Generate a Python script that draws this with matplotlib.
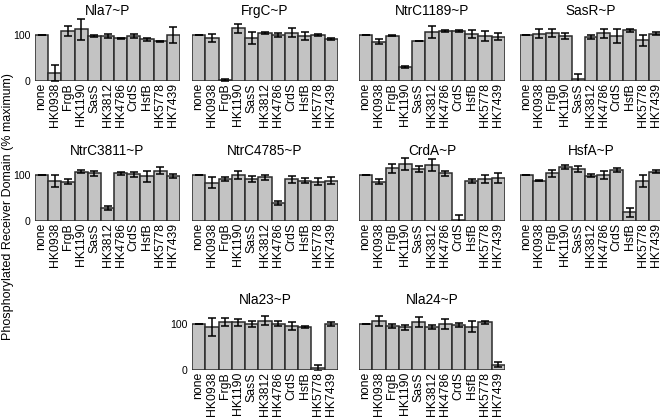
import matplotlib
matplotlib.use('Agg')
import matplotlib.pyplot as plt
import numpy as np

plt.rcParams['font.family'] = ['Liberation Sans', 'DejaVu Sans']

kinases = ['none', 'HK0938', 'FrgB', 'HK1190', 'SasS', 'HK3812',
           'HK4786', 'CrdS', 'HsfB', 'HK5778', 'HK7439']

# mean phosphorylation (% maximum) and error for each receiver domain
nla7 = [100, 17, 109, 113, 98, 98, 93, 98, 91, 87, 101]
nla7_err = [0, 17, 11, 23, 3, 4, 1, 5, 3, 1, 17]
frgc = [100, 94, 3, 115, 94, 105, 101, 105, 98, 100, 92]
frgc_err = [0, 8, 2, 10, 13, 3, 4, 10, 8, 2, 2]
ntrc1189 = [100, 86, 99, 30, 88, 107, 109, 109, 102, 98, 97]
ntrc1189_err = [0, 6, 1, 2, 0, 13, 2, 3, 9, 11, 8]
sasr = [100, 103, 105, 98, 5, 96, 104, 98, 111, 89, 103]
sasr_err = [0, 10, 8, 6, 10, 4, 10, 15, 3, 12, 3]
ntrc3811 = [100, 87, 86, 108, 104, 28, 104, 102, 98, 110, 98]
ntrc3811_err = [0, 13, 6, 3, 5, 5, 4, 6, 12, 8, 4]
ntrc4785 = [100, 84, 92, 100, 92, 95, 40, 91, 88, 86, 88]
ntrc4785_err = [0, 12, 5, 9, 6, 6, 4, 8, 6, 8, 7]
crda = [100, 86, 115, 125, 113, 123, 104, 2, 87, 92, 94]
crda_err = [0, 6, 10, 13, 7, 13, 6, 12, 4, 9, 10]
hsfa = [100, 88, 104, 118, 113, 99, 100, 111, 19, 87, 108]
hsfa_err = [0, 1, 8, 5, 6, 3, 9, 5, 10, 13, 3]
nla23 = [100, 94, 105, 104, 100, 108, 101, 96, 94, 4, 100]
nla23_err = [0, 20, 9, 7, 7, 9, 5, 8, 2, 6, 4]
nla24 = [100, 107, 96, 93, 105, 94, 101, 98, 94, 104, 12]
nla24_err = [0, 11, 5, 6, 11, 5, 11, 5, 12, 3, 5]

panels = [
    ('Nla7~P', nla7, nla7_err),
    ('FrgC~P', frgc, frgc_err),
    ('NtrC1189~P', ntrc1189, ntrc1189_err),
    ('SasR~P', sasr, sasr_err),
    ('NtrC3811~P', ntrc3811, ntrc3811_err),
    ('NtrC4785~P', ntrc4785, ntrc4785_err),
    ('CrdA~P', crda, crda_err),
    ('HsfA~P', hsfa, hsfa_err),
    ('Nla23~P', nla23, nla23_err),
    ('Nla24~P', nla24, nla24_err),
]

W, H = 660, 419
fig = plt.figure(figsize=(6.6, 4.19), dpi=100)

lefts = [35, 192, 359, 520]
widths = [145, 146, 146, 142]
ymax = 145
px_per_unit = 0.458
row_base = [81, 221, 370]      # pixel row of the zero line
# (row, column) for each panel
slots = [(0, 0), (0, 1), (0, 2), (0, 3),
         (1, 0), (1, 1), (1, 2), (1, 3),
         (2, 1), (2, 2)]

x = np.arange(len(kinases))
for (title, vals, errs), (r, c) in zip(panels, slots):
    left = lefts[c]
    width = widths[c]
    base = row_base[r]
    h = ymax * px_per_unit
    ax = fig.add_axes([left / W, (H - base) / H, width / W, h / H])
    ax.bar(x, vals, width=1.0, color='#c3c3c3', edgecolor='#2b2b2b',
           linewidth=1.1, zorder=2)
    ax.errorbar(x, vals, yerr=errs, fmt='none', ecolor='black',
                elinewidth=1.1, capsize=3, capthick=1.1, zorder=3)
    ax.set_xlim(-0.5, len(kinases) - 0.5)
    ax.set_ylim(0, ymax)
    ax.set_xticks(x)
    ax.set_xticklabels(kinases, rotation=90, fontsize=8.8)
    ax.tick_params(axis='both', length=0, pad=1.5)
    if c == 0 or (r == 2 and c == 1):
        ax.set_yticks([0, 100])
        ax.set_yticklabels(['0', '100'], fontsize=7.6)
        ax.tick_params(axis='y', pad=3)
    else:
        ax.set_yticks([])
    for s in ax.spines.values():
        s.set_visible(False)
    ty = base - 100 * px_per_unit - 24
    fig.text((left + width / 2) / W, (H - ty) / H, title,
             ha='center', va='center', fontsize=9.8)

fig.text(8.5 / W, (H - 207) / H, 'Phosphorylated Receiver Domain (% maximum)',
         rotation=90, ha='center', va='center', fontsize=9)

plt.savefig('out.png', dpi=100)
